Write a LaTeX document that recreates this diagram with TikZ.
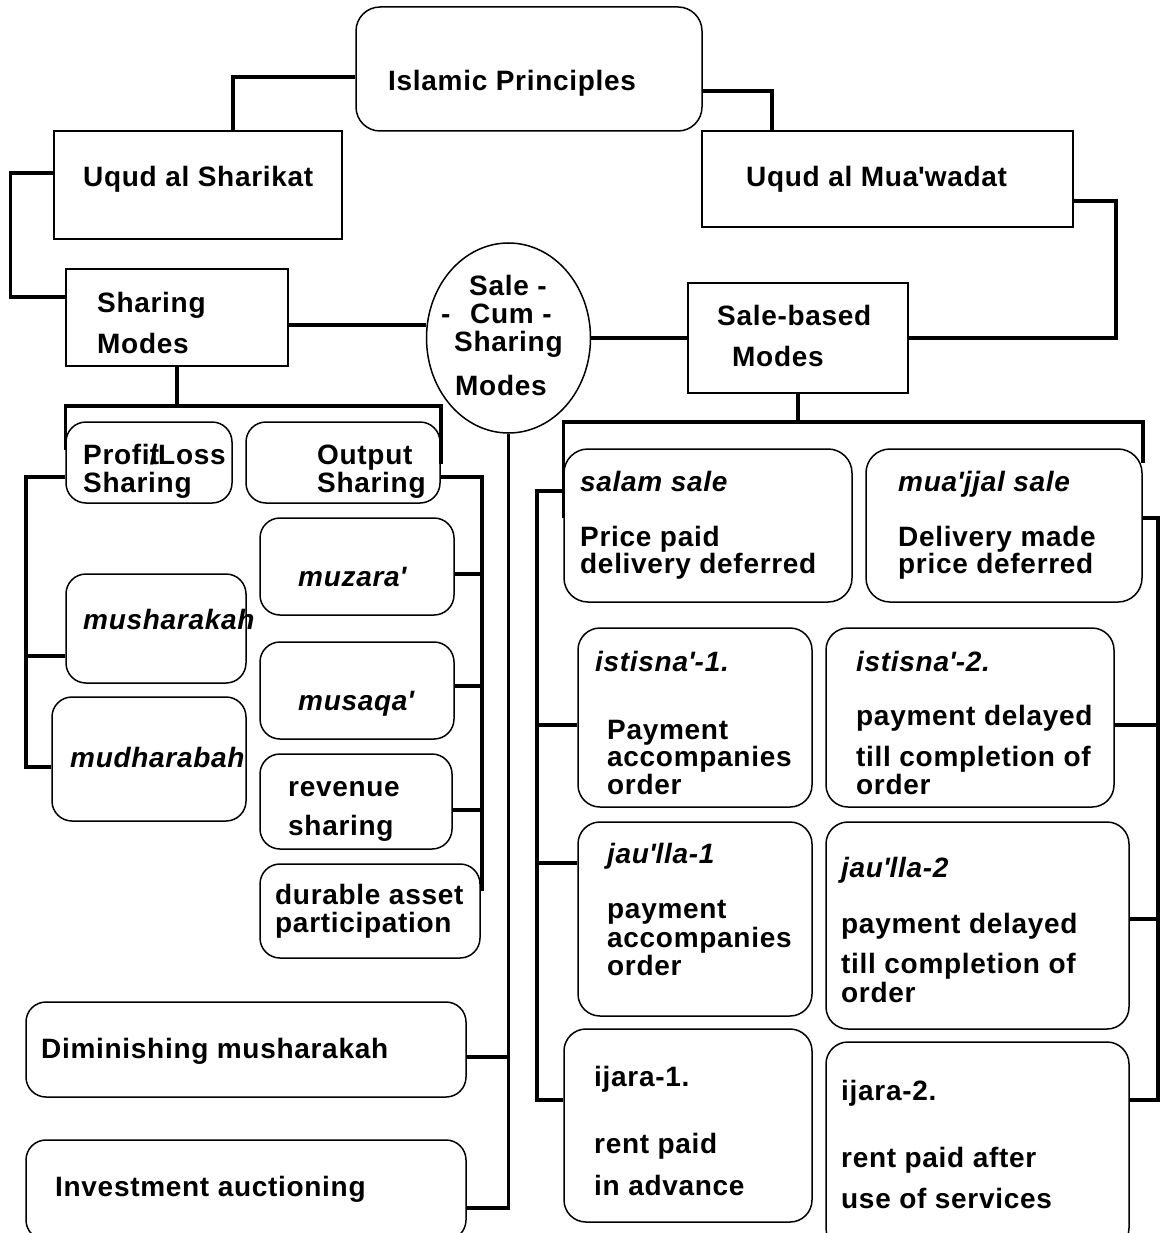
\documentclass[tikz,border=0pt]{standalone}
\usepackage{fontspec}
\newfontfamily\lab{Liberation Sans}[LetterSpace=2.5]
\usetikzlibrary{shapes.geometric}
\tikzset{
  box/.style={draw, line width=1.5pt, inner sep=0pt, rectangle},
  rbox/.style={box, rounded corners=20pt},
  conn/.style={line width=3.5pt},
  txt/.style={anchor=base west, inner sep=0pt, font=\lab\fontsize{28}{30}\selectfont\bfseries},
  itxt/.style={anchor=base west, inner sep=0pt, font=\lab\fontsize{28}{30}\selectfont\bfseries\itshape},
}
\newcommand\bx[6]{\node[#2, minimum width={(#5-#3)*1pt}, minimum height={(#6-#4)*1pt}] (#1) at ({(#3+#5)/2},{(#4+#6)/2}) {};}
\newcommand\tx[5][txt]{\node[#1] (#2) at (#3,#4) {#5};}
\newcommand\q{\textquotesingle}
\begin{document}
\begin{tikzpicture}[x=1pt,y=-1pt]
\useasboundingbox (0,0) rectangle (1170,1233);
\fill[white] (0,0) rectangle (1170,1233);
\clip (0,0) rectangle (1170,1233);
% boxes
\bx{ip}{rbox,rounded corners=24pt}{356}{7}{702}{131}
\bx{us}{box}{54}{131}{342}{239}
\bx{um}{box}{702}{131}{1073}{227}
\bx{sm}{box}{66}{269}{288}{366}
\node[draw, ellipse, line width=1.5pt, inner sep=0pt, minimum width=164pt, minimum height=190pt] (sc) at (508.5,338) {};
\bx{sb}{box}{688}{283}{908}{393}
\bx{pl}{rbox}{66}{422}{232}{503}
\bx{os}{rbox}{246}{422}{440}{503}
\bx{mu}{rbox}{66}{574}{246}{683}
\bx{md}{rbox}{52}{697}{246}{821}
\bx{mz}{rbox}{260}{518}{454}{615}
\bx{mq}{rbox}{260}{642}{454}{739}
\bx{rs}{rbox}{260}{754}{452}{849}
\bx{da}{rbox}{260}{864}{480}{958}
\bx{dm}{rbox}{26}{1002}{466}{1097}
\bx{ia}{rbox}{26}{1140}{466}{1240}
\bx{ss}{rbox,rounded corners=24pt}{564}{449}{852}{602}
\bx{mj}{rbox,rounded corners=24pt}{866}{449}{1142}{602}
\bx{ia1}{rbox,rounded corners=22pt}{578}{628}{812}{807}
\bx{ia2}{rbox,rounded corners=22pt}{826}{628}{1114}{807}
\bx{ja1}{rbox,rounded corners=22pt}{578}{822}{812}{1016}
\bx{ja2}{rbox,rounded corners=22pt}{826}{822}{1129}{1029}
\bx{ij1}{rbox,rounded corners=22pt}{564}{1029}{812}{1222}
\bx{ij2}{rbox,rounded corners=22pt}{826}{1042}{1129}{1250}
% connectors
\draw[conn] (ip.west |- 0,77) -| (us.north -| 233,0);
\draw[conn] (ip.east |- 0,91) -| (um.north -| 772,0);
\draw[conn] (us.west |- 0,173) -- ++(-43,0) |- (sm.west |- 0,297);
\draw[conn] (sm.east |- 0,325) -- (sc.west |- 0,325);
\draw[conn] (sc.east |- 0,338) -- (sb.west |- 0,338);
\draw[conn] (sb.east |- 0,338) -| (1116,201) -- (um.east |- 0,201);
\draw[conn] (sm.south) -- (sm.south |- 0,406);
\draw[conn] (pl.west |- 0,450) |- (os.east |- 0,406) -- (os.east |- 0,464);
\draw[conn] (pl.west |- 0,477) -| (26,767) -- (md.west |- 0,767);
\draw[conn] (26,656) -- (mu.west |- 0,656);
\draw[conn] (os.east |- 0,477) -| (482,891);
\draw[conn] (mz.east |- 0,574) -- (482,574);
\draw[conn] (mq.east |- 0,686) -- (482,686);
\draw[conn] (rs.east |- 0,810) -- (482,810);
\draw[conn] (sc.south) |- (ia.east |- 0,1208);
\draw[conn] (dm.east |- 0,1057) -- (sc.south |- 0,1057);
\draw[conn] (sb.south) -- (sb.south |- 0,422);
\draw[conn] (ss.west |- 0,518) |- (mj.east |- 0,422) -- (mj.east |- 0,463);
\draw[conn] (ss.west |- 0,491) -| (537,1100) -- (ij1.west |- 0,1100);
\draw[conn] (537,725) -- (ia1.west |- 0,725);
\draw[conn] (537,863) -- (ja1.west |- 0,863);
\draw[conn] (mj.east |- 0,518) -| (1158,1100) -- (ij2.east |- 0,1100);
\draw[conn] (ia2.east |- 0,725) -- (1158,725);
\draw[conn] (ja2.east |- 0,919) -- (1158,919);
% texts
\tx{ipt}{388}{91}{Islamic Principles}
\tx{ust}{83}{187}{Uqud al Sharikat}
\tx{umt}{746}{187}{Uqud al Mua\q wadat}
\tx{smt1}{97}{312}{Sharing}
\tx{smt2}{97}{353}{Modes}
\tx{sct1}{469}{295}{Sale -}
\tx{sct2}{441}{323}{-}
\tx{sct3}{470}{323}{Cum -}
\tx{sct4}{454}{351}{Sharing}
\tx{sct5}{455}{395}{Modes}
\tx{sbt1}{717}{325}{Sale-based}
\tx{sbt2}{732}{366}{Modes}
\tx{plt1}{83}{464}{Profi\rlap{t}/Loss}
\tx{plt2}{83}{492}{Sharing}
\tx{ost1}{317}{464}{Output}
\tx{ost2}{317}{492}{Sharing}
\tx[itxt]{mut}{83}{629}{musharakah}
\tx[itxt]{mdt}{70}{767}{mudharabah}
\tx[itxt]{mzt}{298}{586}{muzara\q}
\tx[itxt]{mqt}{298}{710}{musaqa\q}
\tx{rst1}{288}{796}{revenue}
\tx{rst2}{288}{835}{sharing}
\tx{dat1}{275}{904}{durable asset}
\tx{dat2}{275}{932}{participation}
\tx{dmt}{41}{1058}{Diminishing musharakah}
\tx{iat}{55}{1196}{Investment auctioning}
\tx[itxt]{sst1}{580}{491}{salam sale}
\tx{sst2}{580}{546}{Price paid}
\tx{sst3}{580}{573}{delivery deferred}
\tx[itxt]{mjt1}{898}{491}{mua\q jjal sale}
\tx{mjt2}{898}{546}{Delivery made}
\tx{mjt3}{898}{573}{price deferred}
\tx[itxt]{i1t1}{595}{671}{istisna\q-1.}
\tx{i1t2}{607}{739}{Payment}
\tx{i1t3}{607}{766}{accompanies}
\tx{i1t4}{607}{794}{order}
\tx[itxt]{i2t1}{856}{671}{istisna\q-2.}
\tx{i2t2}{856}{725}{payment delayed}
\tx{i2t3}{856}{766}{till completion of}
\tx{i2t4}{856}{794}{order}
\tx[itxt]{j1t1}{607}{863}{jau\q lla-1}
\tx{j1t2}{607}{918}{payment}
\tx{j1t3}{607}{947}{accompanies}
\tx{j1t4}{607}{975}{order}
\tx[itxt]{j2t1}{841}{877}{jau\q lla-2}
\tx{j2t2}{841}{933}{payment delayed}
\tx{j2t3}{841}{973}{till completion of}
\tx{j2t4}{841}{1002}{order}
\tx{k1t1}{594}{1086}{ijara-1.}
\tx{k1t2}{594}{1153}{rent paid}
\tx{k1t3}{594}{1195}{in advance}
\tx{k2t1}{841}{1100}{ijara-2.}
\tx{k2t2}{841}{1167}{rent paid after}
\tx{k2t3}{841}{1208}{use of services}
\end{tikzpicture}
\end{document}
